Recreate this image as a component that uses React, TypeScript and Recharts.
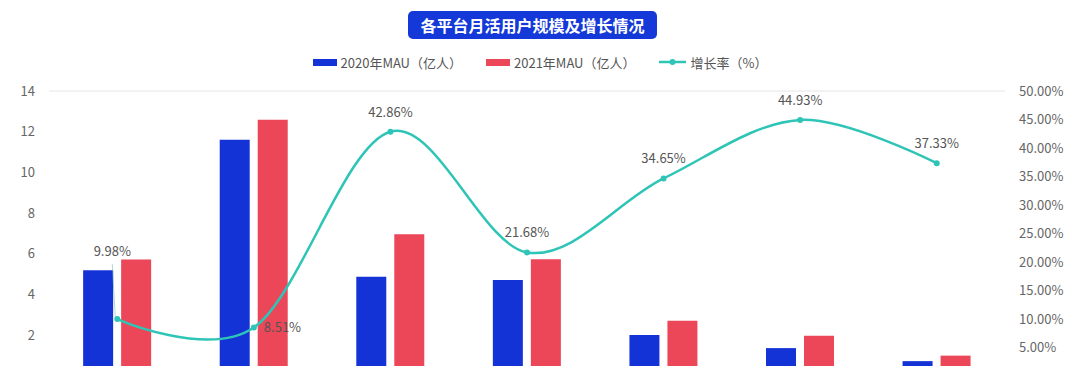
import { ComposedChart, Bar, Line, XAxis, YAxis, CartesianGrid } from "recharts";

const platforms = ["微博", "微信", "抖音", "快手", "B站", "小红书", "知乎"];
const mau2020 = [5.2, 11.6, 4.87, 4.71, 2.02, 1.37, 0.73];
const mau2021 = [5.72, 12.59, 6.96, 5.73, 2.72, 1.98, 1.0];
const growthRate = [0.0998, 0.0851, 0.4286, 0.2168, 0.3465, 0.4493, 0.3733];

const leftTicks = [2, 4, 6, 8, 10, 12, 14];
const rightTicks = [0.05, 0.1, 0.15, 0.2, 0.25, 0.3, 0.35, 0.4, 0.45, 0.5];

const BLUE = "#1433d6";
const RED = "#ec4659";
const TEAL = "#2ec4b6";
const FONT = '"Noto Sans CJK SC", "Noto Sans", sans-serif';

const data = platforms.map((name, i) => ({
  name,
  mau2020: mau2020[i],
  mau2021: mau2021[i],
  rate: growthRate[i],
}));

const pct = (v: number) => `${(v * 100).toFixed(2)}%`;

// catmull-rom style smoothing (like the excel "smoothed line"), same as d3 curveCardinal with tension 0
function smoothCurve(context: any) {
  const k = 1 / 6;
  let x0 = NaN, x1 = NaN, x2 = NaN, y0 = NaN, y1 = NaN, y2 = NaN;
  let n = 0;
  let line = NaN as number;
  const seg = (x: number, y: number) => {
    context.bezierCurveTo(x1 + k * (x2 - x0), y1 + k * (y2 - y0), x2 + k * (x1 - x), y2 + k * (y1 - y), x2, y2);
  };
  return {
    areaStart() { line = 0; },
    areaEnd() { line = NaN; },
    lineStart() {
      x0 = x1 = x2 = y0 = y1 = y2 = NaN;
      n = 0;
    },
    lineEnd() {
      if (n === 2) context.lineTo(x2, y2);
      else if (n === 3) seg(x1, y1);
      if (line || (line !== 0 && n === 1)) context.closePath();
      line = 1 - line;
    },
    point(x: number, y: number) {
      x = +x; y = +y;
      if (n === 0) {
        n = 1;
        line ? context.lineTo(x, y) : context.moveTo(x, y);
      } else if (n === 1) {
        n = 2;
        x1 = x; y1 = y;
      } else {
        n = 3;
        seg(x, y);
      }
      x0 = x1; x1 = x2; x2 = x;
      y0 = y1; y1 = y2; y2 = y;
    },
  };
}

function RateLabel(props: any) {
  const { x, y, value, index } = props;
  if (x == null || y == null) return null;
  const style = { fontSize: 13, fill: "#555", fontFamily: FONT };
  if (index === 0) {
    return (
      <g>
        <line x1={x - 5} y1={y - 55} x2={x - 2} y2={y - 2} stroke="#7fb8b0" strokeOpacity={0.7} strokeWidth={0.8} />
        <text x={x - 5} y={y - 63} textAnchor="middle" {...style}>
          {pct(value)}
        </text>
      </g>
    );
  }
  if (index === 1) {
    return (
      <text x={x + 10} y={y + 5} textAnchor="start" {...style}>
        {pct(value)}
      </text>
    );
  }
  return (
    <text x={x} y={y - 15} textAnchor="middle" {...style}>
      {pct(value)}
    </text>
  );
}

function ChartLegend() {
  const items = [
    { label: "2020年MAU（亿人）", color: BLUE, kind: "bar" },
    { label: "2021年MAU（亿人）", color: RED, kind: "bar" },
    { label: "增长率（%）", color: TEAL, kind: "line" },
  ];
  return (
    <div
      style={{
        position: "absolute",
        left: 0,
        top: 52,
        width: 1080,
        height: 20,
        display: "flex",
        justifyContent: "center",
        alignItems: "center",
        gap: 24,
        fontSize: 13,
        color: "#555",
      }}
    >
      {items.map((it) => (
        <div key={it.label} style={{ display: "flex", alignItems: "center", gap: 4 }}>
          {it.kind === "bar" ? (
            <span style={{ display: "inline-block", width: 24, height: 7, background: it.color }} />
          ) : (
            <svg width={27} height={8}>
              <line x1={0} y1={4} x2={27} y2={4} stroke={it.color} strokeWidth={2.5} />
              <circle cx={13.5} cy={4} r={3} fill={it.color} />
            </svg>
          )}
          <span>{it.label}</span>
        </div>
      ))}
    </div>
  );
}

export default function App() {
  return (
    <div
      style={{
        position: "absolute",
        left: 0,
        top: 0,
        width: 1080,
        height: 366,
        overflow: "hidden",
        background: "#fff",
        fontFamily: FONT,
      }}
    >
      <div
        style={{
          position: "absolute",
          left: 408,
          top: 11,
          width: 249,
          height: 28,
          borderRadius: 5,
          background: "#1539d8",
          color: "#fff",
          fontWeight: 700,
          fontSize: 16,
          lineHeight: "28px",
          textAlign: "center",
          zIndex: 2,
        }}
      >
        各平台月活用户规模及增长情况
      </div>
      <ChartLegend />
      <ComposedChart
        width={1080}
        height={420}
        data={data}
        margin={{ top: 91, right: 0, bottom: 14, left: 0 }}
        barCategoryGap="25%"
        barGap={8}
      >
        <CartesianGrid vertical={false} stroke="#e6e6e6" />
        <XAxis dataKey="name" axisLine={false} tickLine={false} height={30} tick={{ fontSize: 13, fill: "#666" }} />
        <YAxis
          yAxisId="left"
          width={49}
          domain={[0, 14]}
          ticks={leftTicks}
          axisLine={false}
          tickLine={false}
          tickMargin={8}
          tick={{ fontSize: 13, fill: "#666" }}
        />
        <YAxis
          yAxisId="right"
          orientation="right"
          width={75}
          domain={[0, 0.5]}
          ticks={rightTicks}
          axisLine={false}
          tickLine={false}
          tickMargin={8}
          tickFormatter={pct}
          tick={{ fontSize: 13, fill: "#666" }}
        />
        <Bar yAxisId="left" dataKey="mau2020" name="2020年MAU（亿人）" fill={BLUE} isAnimationActive={false} />
        <Bar yAxisId="left" dataKey="mau2021" name="2021年MAU（亿人）" fill={RED} isAnimationActive={false} />
        <Line
          yAxisId="right"
          type={smoothCurve as any}
          dataKey="rate"
          name="增长率（%）"
          stroke={TEAL}
          strokeWidth={2.5}
          dot={{ r: 3, fill: TEAL, stroke: TEAL, strokeWidth: 0 }}
          activeDot={false}
          label={RateLabel}
          isAnimationActive={false}
        />
      </ComposedChart>
    </div>
  );
}
